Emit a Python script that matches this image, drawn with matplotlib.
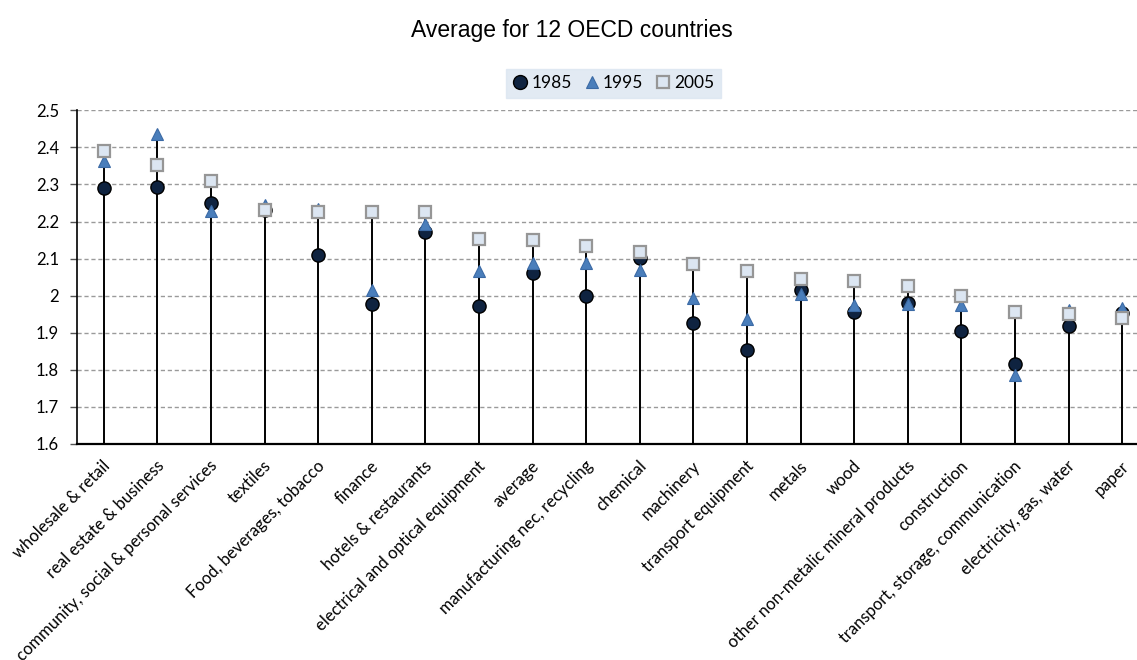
import matplotlib
matplotlib.use("Agg")
import matplotlib.pyplot as plt
import numpy as np
from matplotlib.lines import Line2D

categories = ["wholesale & retail", "real estate & business", "community, social & personal services",
              "textiles", "Food, beverages, tobacco", "finance", "hotels & restaurants",
              "electrical and optical equipment", "average", "manufacturing nec, recycling",
              "chemical", "machinery", "transport equipment", "metals", "wood",
              "other non-metalic mineral products", "construction",
              "transport, storage, communication", "electricity, gas, water", "paper"]
v1985 = [2.290, 2.294, 2.249, 2.231, 2.111, 1.977, 2.171, 1.973, 2.060, 1.998,
         2.101, 1.925, 1.853, 2.014, 1.955, 1.981, 1.904, 1.815, 1.919, 1.952]
v1995 = [2.363, 2.435, 2.229, 2.245, 2.235, 2.016, 2.193, 2.067, 2.088, 2.088,
         2.068, 1.993, 1.937, 2.004, 1.976, 1.977, 1.975, 1.787, 1.961, 1.966]
v2005 = [2.390, 2.353, 2.308, 2.232, 2.227, 2.226, 2.225, 2.154, 2.150, 2.133,
         2.119, 2.085, 2.067, 2.046, 2.040, 2.026, 2.000, 1.957, 1.951, 1.939]
series_labels = ["1985", "1995", "2005"]
yticks = [1.6, 1.7, 1.8, 1.9, 2.0, 2.1, 2.2, 2.3, 2.4, 2.5]
ytick_labels = ["1.6", "1.7", "1.8", "1.9", "2", "2.1", "2.2", "2.3", "2.4", "2.5"]
title = "Average for 12 OECD countries"

W, H = 1137, 660
fig = plt.figure(figsize=(W / 100, H / 100), dpi=100)
left, right, bottom, top = 77, 1149, 444, 110.3
ax = fig.add_axes([left / W, 1 - bottom / H, (right - left) / W, (bottom - top) / H])

lab_font = ["Lato", "DejaVu Sans"]
x = np.arange(len(categories))
ymin = 1.6
ax.set_xlim(-0.5, len(categories) - 0.5)
ax.set_ylim(1.6, 2.5)

for t in yticks[1:]:
    ax.axhline(t, color="#9a9a9a", lw=1.0, ls=(0, (3, 2)), zorder=1)

vmax = np.maximum(np.maximum(v1985, v1995), v2005)
ax.vlines(x, ymin, vmax, color="black", lw=1.4, zorder=2)

c_circ = "#0f2340"
c_tri = "#4a7ebb"
c_sq_face = "#dce6f2"
c_sq_edge = "#969696"
ax.plot(x, v1985, ls="none", marker="o", ms=9.5, mfc=c_circ, mec="black", mew=1.0, zorder=3)
ax.plot(x, v1995, ls="none", marker="^", ms=9, mfc=c_tri, mec="#3b6aa5", mew=0.8, zorder=4)
ax.plot(x, v2005, ls="none", marker="s", ms=8, mfc=c_sq_face, mec=c_sq_edge, mew=1.6, zorder=5)

for s in ["top", "right"]:
    ax.spines[s].set_visible(False)
ax.spines["left"].set_color("black")
ax.spines["left"].set_linewidth(1.2)
ax.spines["bottom"].set_color("black")
ax.spines["bottom"].set_linewidth(1.6)
ax.set_yticks(yticks)
ax.set_yticklabels(ytick_labels, fontfamily=lab_font, fontsize=12)
ax.tick_params(axis="y", direction="out", length=5, width=1, color="#555555", pad=8)
ax.set_xticks(x)
ax.set_xticklabels([])
ax.tick_params(axis="x", length=0)

for xi, lab in zip(x, categories):
    ax.annotate(lab, xy=(xi, ymin), xycoords="data", xytext=(3, -14), textcoords="offset points",
                rotation=45, rotation_mode="anchor", ha="right", va="center",
                fontfamily=lab_font, fontsize=12, annotation_clip=False)

fig.text(572 / W, 1 - 30 / H, title, ha="center", va="center",
         fontfamily=["Liberation Sans", "DejaVu Sans"], fontsize=16.5)

handles = [
    Line2D([], [], ls="none", marker="o", ms=10, mfc=c_circ, mec="black", mew=1.0),
    Line2D([], [], ls="none", marker="^", ms=9, mfc=c_tri, mec="#3b6aa5", mew=0.8),
    Line2D([], [], ls="none", marker="s", ms=8, mfc=c_sq_face, mec=c_sq_edge, mew=1.6),
]
leg = fig.legend(handles, series_labels, loc="center", bbox_to_anchor=(613.5 / W, 1 - 83.5 / H),
                 ncol=3, frameon=True, fancybox=False, handlelength=0.9, handletextpad=0.2,
                 columnspacing=0.7, borderpad=0.35, prop={"family": lab_font, "size": 12.5})
leg.get_frame().set_facecolor("#dbe5f1")
leg.get_frame().set_edgecolor("#dbe5f1")

fig.savefig("out.png", dpi=100)
